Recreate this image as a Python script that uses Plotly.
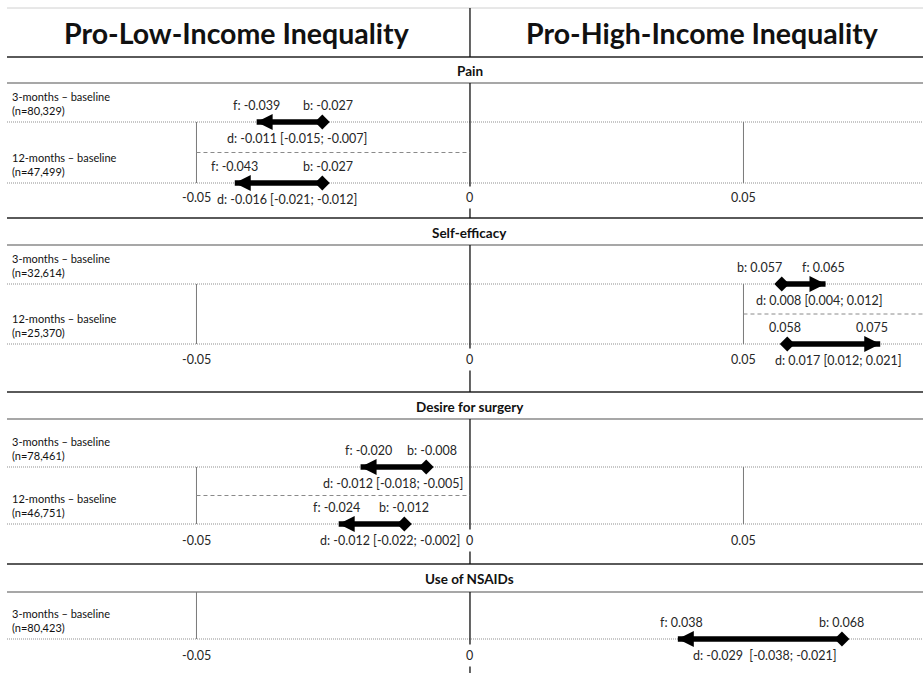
import plotly.graph_objects as go

# ---------------- data ----------------
headers = ["Pro-Low-Income Inequality", "Pro-High-Income Inequality"]
panel_titles = ["Pain", "Self-efficacy", "Desire for surgery", "Use of NSAIDs"]
row_labels = [
    ["3-months – baseline<br>(n=80,329)", "12-months – baseline<br>(n=47,499)"],
    ["3-months – baseline<br>(n=32,614)", "12-months – baseline<br>(n=25,370)"],
    ["3-months – baseline<br>(n=78,461)", "12-months – baseline<br>(n=46,751)"],
    ["3-months – baseline<br>(n=80,423)"],
]
baseline_vals = [[-0.027, -0.027], [0.057, 0.058], [-0.008, -0.012], [0.068]]
followup_vals = [[-0.039, -0.043], [0.065, 0.075], [-0.020, -0.024], [0.038]]
b_labels = [["b: -0.027", "b: -0.027"], ["b: 0.057", "0.058"], ["b: -0.008", "b: -0.012"], ["b: 0.068"]]
f_labels = [["f: -0.039", "f: -0.043"], ["f: 0.065", "0.075"], ["f: -0.020", "f: -0.024"], ["f: 0.038"]]
d_labels = [
    ["d: -0.011 [-0.015; -0.007]", "d: -0.016 [-0.021; -0.012]"],
    ["d: 0.008 [0.004; 0.012]", "d: 0.017 [0.012; 0.021]"],
    ["d: -0.012 [-0.018; -0.005]", "d: -0.012 [-0.022; -0.002]"],
    ["d: -0.029  [-0.038; -0.021]"],
]
tick_vals = [[-0.05, 0, 0.05], [-0.05, 0, 0.05], [-0.05, 0, 0.05], [-0.05, 0]]
tick_text = [["-0.05", "0", "0.05"], ["-0.05", "0", "0.05"], ["-0.05", "0", "0.05"], ["-0.05", "0"]]

# ---------------- layout (pixels) ----------------
W, H = 923, 673
X_MIN, X_MAX = -0.08592, 0.08282
panel_top = [57, 218, 392, 564]
title_line = [83, 245, 419, 592]
row_y = [[122, 183], [284, 344], [467, 524], [639]]
dash_span = [(-0.05, 0), (0.05, X_MAX), (-0.05, 0), None]
tick_dy = [14, 15, 16, 16]
# small label nudges (px)
b_shift = [[6, 6], [-22, -2], [6, 0], [0]]
f_shift = [[0, 0], [-2, -8], [8, -2], [4]]
d_shift = [[8, 8], [16, 5], [0, 18], [5]]

LINE_DARK = "#5a5a5a"
LINE_MID = "#8a8a8a"
TXT = "#262626"
FONT = "Lato"
LBL = 12.5

fig = go.Figure()
shapes = []
ann = []
LEFT = 7 / W


def hline(y, color, width, dash="solid", x0=LEFT, x1=1, xref="paper"):
    shapes.append(dict(type="line", xref=xref, yref="y", x0=x0, x1=x1, y0=y, y1=y,
                       line=dict(color=color, width=width, dash=dash), layer="below"))


def vline(x, y0, y1, color, width, dash="solid"):
    shapes.append(dict(type="line", xref="x", yref="y", x0=x, x1=x, y0=y0, y1=y1,
                       line=dict(color=color, width=width, dash=dash), layer="below"))


# header
hline(8, "#d0d0d0", 1)
hline(panel_top[0], LINE_DARK, 2)
vline(0, 8, panel_top[0], "#111", 1.3)
for i, h in enumerate(headers):
    ann.append(dict(xref="paper", yref="y", x=[237 / W, 702 / W][i], y=33, text=h,
                    showarrow=False, xanchor="center", yanchor="middle",
                    font=dict(family=FONT, size=28.5, color="#111", weight="bold")))

for p, title in enumerate(panel_titles):
    top = panel_top[p]
    bot = panel_top[p + 1] if p + 1 < len(panel_top) else H
    if p > 0:
        hline(top, LINE_DARK, 2)
    hline(title_line[p], LINE_MID, 1.5)
    ann.append(dict(xref="x", yref="y", x=0, y=(top + title_line[p]) / 2 + 1, text=title,
                    showarrow=False, xanchor="center", yanchor="middle",
                    font=dict(family=FONT, size=13.5, color="#111", weight="bold")))
    rows = row_y[p]
    # zero line
    vline(0, title_line[p], bot, "#111", 1.3)
    # gridlines at non-zero ticks
    gtop = rows[0] if len(rows) > 1 else title_line[p]
    for tv in tick_vals[p]:
        if tv != 0:
            vline(tv, gtop, rows[-1], "#7a7a7a", 1)
    # dashed separator
    if dash_span[p] is not None and len(rows) > 1:
        hline((rows[0] + rows[1]) / 2, "#8a8a8a", 1, "4px,3px",
              dash_span[p][0], dash_span[p][1], "x")
    # dotted row lines
    for y in rows:
        hline(y, "#8f8f8f", 1, "1px,1px")
    # tick labels
    for tv, tt in zip(tick_vals[p], tick_text[p]):
        ann.append(dict(xref="x", yref="y", x=tv, y=rows[-1] + tick_dy[p], text=tt,
                        showarrow=False, xanchor="center", yanchor="middle",
                        bgcolor="white" if tv == 0 else None, borderpad=3,
                        font=dict(family=FONT, size=LBL, color=TXT)))
    # rows
    for r, y in enumerate(rows):
        b = baseline_vals[p][r]
        f = followup_vals[p][r]
        ann.append(dict(xref="paper", yref="y", x=10 / W, y=y - 3, text=row_labels[p][r],
                        showarrow=False, xanchor="left", yanchor="bottom", align="left",
                        font=dict(family=FONT, size=11, color="#111")))
        fig.add_trace(go.Scatter(x=[b, f], y=[y, y], mode="lines",
                                 line=dict(color="black", width=5.5, backoff=11),
                                 hoverinfo="skip", showlegend=False))
        fig.add_trace(go.Scatter(x=[f], y=[y], mode="markers",
                                 marker=dict(symbol="arrow-left" if f < b else "arrow-right",
                                             size=16, color="black", line=dict(width=0)),
                                 hoverinfo="skip", showlegend=False))
        fig.add_trace(go.Scatter(x=[b], y=[y], mode="markers",
                                 marker=dict(symbol="diamond", size=11.5, color="black",
                                             line=dict(width=0)),
                                 hoverinfo="skip", showlegend=False))
        ann.append(dict(xref="x", yref="y", x=f, y=y - 17, text=f_labels[p][r],
                        xshift=f_shift[p][r], showarrow=False, xanchor="center", yanchor="middle",
                        font=dict(family=FONT, size=LBL, color=TXT)))
        ann.append(dict(xref="x", yref="y", x=b, y=y - 17, text=b_labels[p][r],
                        xshift=b_shift[p][r], showarrow=False, xanchor="center", yanchor="middle",
                        font=dict(family=FONT, size=LBL, color=TXT)))
        ann.append(dict(xref="x", yref="y", x=(b + f) / 2, y=y + 16, text=d_labels[p][r],
                        xshift=d_shift[p][r], showarrow=False, xanchor="center", yanchor="middle",
                        font=dict(family=FONT, size=LBL, color=TXT)))

fig.update_layout(
    width=W, height=H, autosize=False,
    margin=dict(l=0, r=0, t=0, b=0),
    paper_bgcolor="white", plot_bgcolor="white",
    xaxis=dict(range=[X_MIN, X_MAX], visible=False, fixedrange=True),
    yaxis=dict(range=[H, 0], visible=False, fixedrange=True),
    shapes=shapes, annotations=ann, showlegend=False,
)
fig.write_html("out.html")
